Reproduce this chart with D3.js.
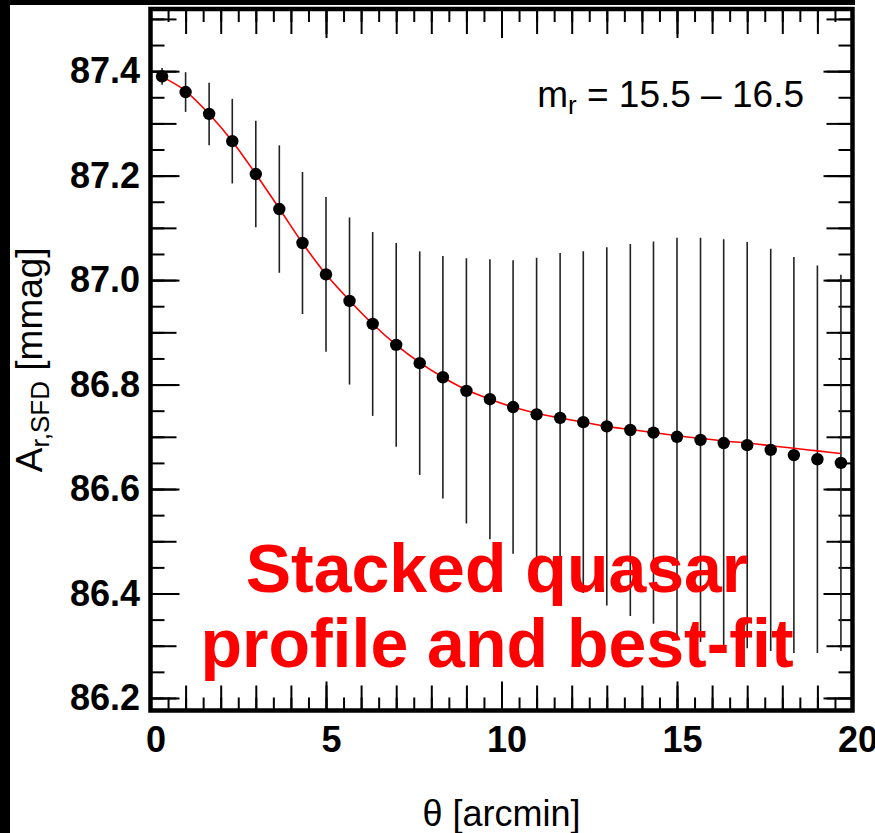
<!DOCTYPE html>
<html lang="en">

  <head>
    <meta charset="utf-8">
    <title>Stacked quasar profile</title>
    <script src="https://d3js.org/d3.v7.js"></script>
    <style>
      body { margin: 0; background: white; }
      svg { display: block; }
    </style>
  </head>

  <body>
    <script>

  // width and height
  var w = 875;
  var h = 833;
  var frame = {left: 150.5, right: 852.5, top: 9, bottom: 710.5};
  var font = "'Liberation Sans', Arial, Helvetica, sans-serif";

  // bin centres [arcmin]
  var theta = [0.33, 1.00, 1.67, 2.33, 3.00, 3.67, 4.33, 5.00, 5.67, 6.33,
               7.00, 7.67, 8.33, 9.00, 9.67, 10.33, 11.00, 11.67, 12.33, 13.00,
               13.67, 14.33, 15.00, 15.67, 16.33, 17.00, 17.67, 18.33, 19.00, 19.67];

  // stacked profile [mmag]
  var profile = [87.390, 87.360, 87.318, 87.266, 87.203, 87.136, 87.071, 87.011, 86.960, 86.916,
                 86.876, 86.841, 86.814, 86.788, 86.772, 86.757, 86.743, 86.736, 86.728, 86.720,
                 86.713, 86.708, 86.700, 86.694, 86.688, 86.684, 86.675, 86.665, 86.657, 86.650];

  // 1 sigma errors
  var errors = [0.016, 0.038, 0.060, 0.081, 0.102, 0.122, 0.136, 0.148, 0.160, 0.176,
                0.195, 0.214, 0.232, 0.254, 0.268, 0.281, 0.300, 0.316, 0.327, 0.343,
                0.356, 0.366, 0.381, 0.387, 0.390, 0.389, 0.385, 0.379, 0.371, 0.360];

  // best-fit curve at the same bins
  var bestFit = [87.389, 87.362, 87.318, 87.266, 87.203, 87.137, 87.071, 87.011, 86.961, 86.916,
                 86.876, 86.842, 86.814, 86.790, 86.772, 86.757, 86.745, 86.736, 86.728, 86.720,
                 86.714, 86.708, 86.702, 86.697, 86.692, 86.688, 86.683, 86.678, 86.673, 86.668];

  // tick labels
  var xLabels = [0, 5, 10, 15, 20];
  var yLabels = [86.2, 86.4, 86.6, 86.8, 87.0, 87.2, 87.4];

  var data = theta.map((t, i) => ({x: t, y: profile[i], e: errors[i], fit: bestFit[i]}));

  // scales
  var xScale = d3.scaleLinear()
    .domain([0, 20])
    .range([frame.left, frame.right]);

  var yScale = d3.scaleLinear()
    .domain([86.176, 87.519])
    .range([frame.bottom, frame.top]);

  // create SVG element
  var svg = d3.select("body")
    .append("svg")
    .attr("width", w)
    .attr("height", h)
    .style("background", "white");

  // black strips of the page border
  svg.append("rect").attr("x", 0).attr("y", 0).attr("width", 10).attr("height", h).attr("fill", "black");
  svg.append("rect").attr("x", 0).attr("y", 0).attr("width", 855).attr("height", 5).attr("fill", "black");

  // tick positions
  var xHalf = d3.range(0, 20.01, 0.5);
  var xInt = d3.range(0, 21, 1);
  var yFine = d3.range(0, 27).map(i => 86.2 + i * 0.05);
  var yTenth = d3.range(0, 14).map(i => 86.2 + i * 0.1);

  function styleAxis(g) {
    g.select(".domain").remove();
    g.selectAll("line").attr("stroke", "black").attr("stroke-width", 2);
  }

  // bottom axis (ticks pointing up)
  function bottomTicks(values, len, labels) {
    var ax = d3.axisBottom(xScale).tickValues(values).tickSize(-len).tickSizeOuter(0)
      .tickPadding(16).tickFormat(labels ? d3.format("d") : "");
    svg.append("g")
      .attr("transform", `translate(0, ${frame.bottom})`)
      .call(ax)
      .call(styleAxis);
  }
  bottomTicks(xHalf, 13);
  bottomTicks(xInt, 25);
  bottomTicks(xLabels, 29, true);

  // top axis (ticks pointing down)
  function topTicks(values, len) {
    svg.append("g")
      .attr("transform", `translate(0, ${frame.top})`)
      .call(d3.axisTop(xScale).tickValues(values).tickSize(-len).tickFormat(""))
      .call(styleAxis);
  }
  topTicks(xHalf, 13);
  topTicks(xInt, 25);
  topTicks(xLabels, 29);

  // left axis
  function leftTicks(values, len, labels) {
    var ax = d3.axisLeft(yScale).tickValues(values).tickSize(-len).tickSizeOuter(0)
      .tickPadding(10.5).tickFormat(labels ? d3.format(".1f") : "");
    svg.append("g")
      .attr("transform", `translate(${frame.left}, 0)`)
      .call(ax)
      .call(styleAxis);
  }
  leftTicks(yFine, 14);
  leftTicks(yTenth, 26);
  leftTicks(yLabels, 29, true);

  // right axis
  function rightTicks(values, len) {
    svg.append("g")
      .attr("transform", `translate(${frame.right}, 0)`)
      .call(d3.axisRight(yScale).tickValues(values).tickSize(-len).tickFormat(""))
      .call(styleAxis);
  }
  rightTicks(yFine, 14);
  rightTicks(yTenth, 26);
  rightTicks(yLabels, 29);

  // tick label fonts
  svg.selectAll(".tick text")
    .attr("font-family", font)
    .attr("font-size", 36)
    .attr("font-weight", "bold")
    .attr("fill", "black");
  svg.selectAll(".tick text").filter(function() { return this.getAttribute("dy") === "0.71em"; })
    .attr("dx", 5);

  // error bars
  svg.append("g")
    .selectAll("line")
    .data(data)
    .enter()
    .append("line")
    .attr("x1", d => xScale(d.x))
    .attr("x2", d => xScale(d.x))
    .attr("y1", d => yScale(d.y + d.e))
    .attr("y2", d => yScale(d.y - d.e))
    .attr("stroke", "#222")
    .attr("stroke-width", 1.6);

  // best-fit line
  var line = d3.line()
    .x(d => xScale(d.x))
    .y(d => yScale(d.fit))
    .curve(d3.curveMonotoneX);

  svg.append("path")
    .datum(data)
    .attr("d", line)
    .attr("fill", "none")
    .attr("stroke", "#ff0000")
    .attr("stroke-width", 1.6);

  // points
  svg.append("g")
    .selectAll("circle")
    .data(data)
    .enter()
    .append("circle")
    .attr("cx", d => xScale(d.x))
    .attr("cy", d => yScale(d.y))
    .attr("r", 6.2)
    .attr("fill", "black");

  // frame
  svg.append("rect")
    .attr("x", frame.left)
    .attr("y", frame.top)
    .attr("width", frame.right - frame.left)
    .attr("height", frame.bottom - frame.top)
    .attr("fill", "none")
    .attr("stroke", "black")
    .attr("stroke-width", 4.5);

  // magnitude range label
  var mr = svg.append("text")
    .attr("x", 804)
    .attr("y", 107)
    .attr("text-anchor", "end")
    .attr("font-family", font)
    .attr("font-size", 37);
  mr.append("tspan").text("m");
  mr.append("tspan").attr("font-size", 26).attr("dy", 7).text("r");
  mr.append("tspan").attr("dy", -7).text(" = 15.5 \u2013 16.5");

  // red annotation
  var note = svg.append("text")
    .attr("text-anchor", "middle")
    .attr("font-family", font)
    .attr("font-size", 68)
    .attr("font-weight", "bold")
    .attr("fill", "#ff0000");
  note.append("tspan").attr("x", 497).attr("y", 592).text("Stacked quasar");
  note.append("tspan").attr("x", 497).attr("y", 667).text("profile and best-fit");

  // axis titles
  svg.append("text")
    .attr("x", (frame.left + frame.right) / 2)
    .attr("y", 826)
    .attr("text-anchor", "middle")
    .attr("font-family", font)
    .attr("font-size", 36)
    .text("\u03b8 [arcmin]");

  var yt = svg.append("text")
    .attr("transform", `translate(42, ${(frame.top + frame.bottom) / 2}) rotate(-90)`)
    .attr("text-anchor", "middle")
    .attr("font-family", font)
    .attr("font-size", 37);
  yt.append("tspan").text("A");
  yt.append("tspan").attr("font-size", 26).attr("dy", 7).text("r,SFD");
  yt.append("tspan").attr("dy", -7).text(" [mmag]");

    </script>
  </body>
</html>
